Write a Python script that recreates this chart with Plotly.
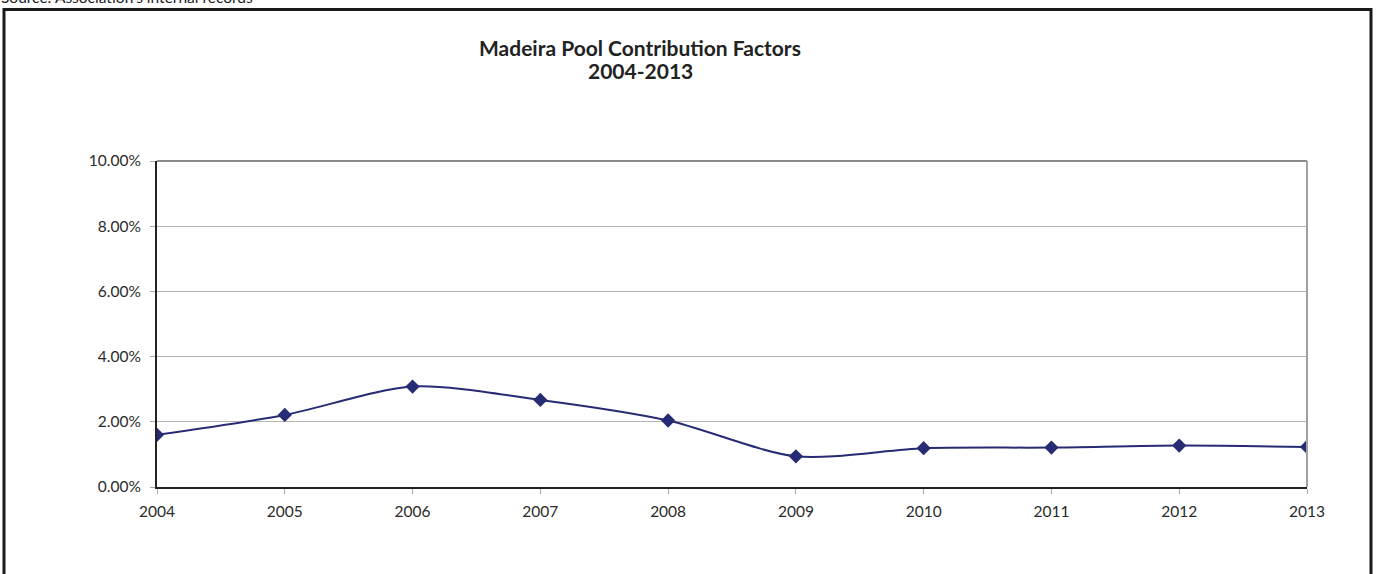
import plotly.graph_objects as go

# Madeira pool contribution factor by year (percent)
years = [2004, 2005, 2006, 2007, 2008, 2009, 2010, 2011, 2012, 2013]
factors = [1.60, 2.21, 3.08, 2.67, 2.04, 0.94, 1.19, 1.21, 1.27, 1.23]
y_ticks = [0, 2, 4, 6, 8, 10]
y_tick_labels = ["0.00%", "2.00%", "4.00%", "6.00%", "8.00%", "10.00%"]

W, H = 1378, 574
L, R, T, B = 157, 71, 161, 87
pw, ph = W - L - R, H - T - B


def px_x(x):
    return (x - L) / pw


def px_y(y):
    return (H - B - y) / ph


navy = "#262B73"
font_family = "Lato, 'Open Sans', sans-serif"
tick_size = 15.5

fig = go.Figure()
fig.add_trace(go.Scatter(
    x=years,
    y=factors,
    mode="lines+markers",
    line=dict(color=navy, width=2, shape="spline", smoothing=0.8),
    marker=dict(symbol="diamond", size=11, color=navy),
    hoverinfo="x+y",
    showlegend=False,
))

fig.update_layout(
    width=W,
    height=H,
    margin=dict(l=L, r=R, t=T, b=B),
    paper_bgcolor="white",
    plot_bgcolor="white",
    font=dict(family=font_family, size=14, color="#333333"),
    xaxis=dict(
        range=[2004, 2013],
        tickmode="array",
        tickvals=years,
        ticktext=[str(y) for y in years],
        showgrid=False,
        zeroline=False,
        showline=True,
        linecolor="#222222",
        linewidth=2,
        ticks="outside",
        ticklen=5,
        tickcolor="#aaaaaa",
        ticklabelstandoff=4,
        tickfont=dict(size=tick_size, color="#2a2a2a"),
    ),
    yaxis=dict(
        range=[0, 10],
        tickmode="array",
        tickvals=y_ticks,
        ticktext=y_tick_labels,
        showgrid=True,
        gridcolor="#b4b4b4",
        gridwidth=1,
        zeroline=False,
        showline=True,
        linecolor="#222222",
        linewidth=2,
        ticks="outside",
        ticklen=5,
        tickcolor="#aaaaaa",
        ticklabelstandoff=6,
        tickfont=dict(size=tick_size, color="#2a2a2a"),
    ),
)

# Chart title, two centred lines
title_lines = ["Madeira Pool Contribution Factors", "2004-2013"]
for line_text, cy in zip(title_lines, [47, 70]):
    fig.add_annotation(
        text=f"<b>{line_text}</b>",
        xref="paper", yref="paper",
        x=px_x(640), y=px_y(cy), xanchor="center", yanchor="middle",
        showarrow=False,
        font=dict(family=font_family, size=21, color="#222222"),
    )

# Gray top and right edges of the plot area
fig.add_shape(type="line", xref="paper", yref="paper", x0=0, x1=1, y0=1, y1=1,
              line=dict(color="#8c8c8c", width=2))
fig.add_shape(type="line", xref="paper", yref="paper", x0=1, x1=1, y0=0, y1=1,
              line=dict(color="#a0a0a0", width=2))

# Outer chart frame
fig.add_shape(type="rect", xref="paper", yref="paper",
              x0=px_x(4), x1=px_x(1371), y0=px_y(9.5), y1=px_y(590),
              line=dict(color="#1a1a1a", width=3), layer="above")

# Source note at the top-left
fig.add_annotation(
    text="Source: Association's internal records",
    xref="paper", yref="paper",
    x=px_x(-1), y=px_y(8), xanchor="left", yanchor="bottom",
    showarrow=False,
    font=dict(family=font_family, size=15.5, color="#222222"),
)

fig.write_html("out.html")
